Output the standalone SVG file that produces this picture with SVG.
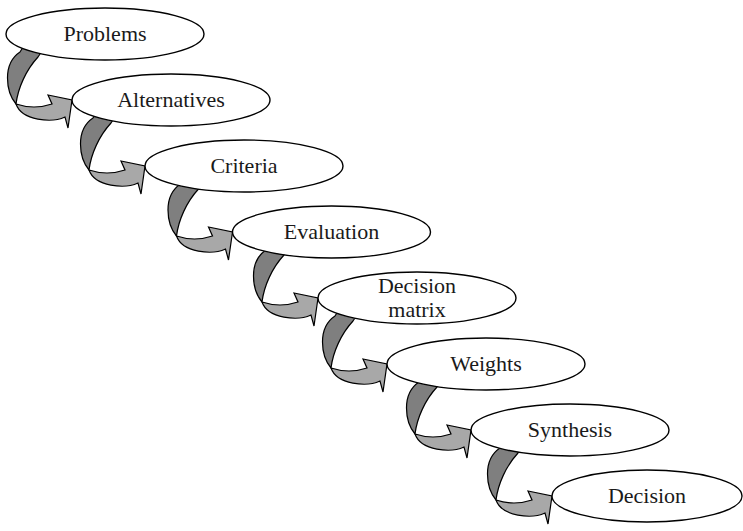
<svg xmlns="http://www.w3.org/2000/svg" xmlns:xlink="http://www.w3.org/1999/xlink" width="743" height="531" viewBox="0 0 743 531">
  <style>
    .node { fill: #ffffff; stroke: #000000; stroke-width: 1.4; }
    .label { font-family: "Liberation Serif", "DejaVu Serif", serif; font-size: 22px; fill: #1a1a1a; text-anchor: middle; }
    .back { fill: #7f7f7f; stroke: #000000; stroke-width: 1.2; stroke-linejoin: round; }
    .front { fill: #a8a8a8; stroke: #000000; stroke-width: 1.2; stroke-linejoin: miter; }
  </style>
  <defs>
    <!-- curled ribbon arrow, origin at the arrow tip -->
    <g id="curl">
      <path class="back" d="M -52,-48 L -42,-64 L -24,-58 L -34,-43 C -46,-30 -54,-12 -56,4 C -66,-8 -70,-36 -52,-48 Z"/>
      <path class="front" d="M -56,4 Q -38,10 -20,4 L -24,-5 L 0,0 L -4,28 L -7,17 C -20,23 -50,21 -56,4 Z"/>
    </g>
  </defs>
  <rect width="743" height="531" fill="#ffffff"/>

  <g id="connectors">
    <use xlink:href="#curl" x="72" y="100"/>
    <use xlink:href="#curl" x="145" y="166"/>
    <use xlink:href="#curl" x="232.5" y="232"/>
    <use xlink:href="#curl" x="318" y="298"/>
    <use xlink:href="#curl" x="387" y="364"/>
    <use xlink:href="#curl" x="471" y="430"/>
    <use xlink:href="#curl" x="552" y="496"/>
  </g>

  <g id="problems">
    <ellipse class="node" cx="105" cy="34" rx="99" ry="26"/>
    <text class="label" x="105" y="41">Problems</text>
  </g>
  <g id="alternatives">
    <ellipse class="node" cx="171" cy="100" rx="99" ry="26"/>
    <text class="label" x="171" y="107">Alternatives</text>
  </g>
  <g id="criteria">
    <ellipse class="node" cx="244" cy="166" rx="99" ry="26"/>
    <text class="label" x="244" y="173">Criteria</text>
  </g>
  <g id="evaluation">
    <ellipse class="node" cx="331.5" cy="232" rx="99" ry="26"/>
    <text class="label" x="331.5" y="239">Evaluation</text>
  </g>
  <g id="decision-matrix">
    <ellipse class="node" cx="417" cy="298" rx="99" ry="26"/>
    <text class="label" x="417" y="293">Decision</text>
    <text class="label" x="417" y="317">matrix</text>
  </g>
  <g id="weights">
    <ellipse class="node" cx="486" cy="364" rx="99" ry="26"/>
    <text class="label" x="486" y="371">Weights</text>
  </g>
  <g id="synthesis">
    <ellipse class="node" cx="570" cy="430" rx="99" ry="26"/>
    <text class="label" x="570" y="437">Synthesis</text>
  </g>
  <g id="decision">
    <ellipse class="node" cx="647" cy="496" rx="95" ry="26"/>
    <text class="label" x="647" y="503">Decision</text>
  </g>
</svg>
